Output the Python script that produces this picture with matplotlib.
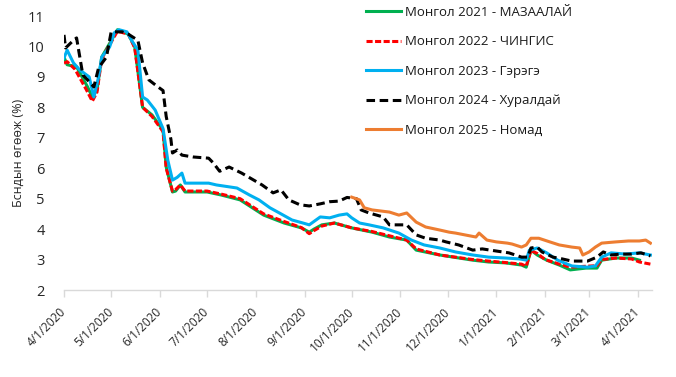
import matplotlib
matplotlib.use('Agg')
import matplotlib.pyplot as plt
import matplotlib.dates as mdates
from matplotlib.ticker import FuncFormatter
import pandas as pd

plt.rcParams['font.family'] = ['Open Sans', 'DejaVu Sans']
fontSize = 9.5

# Монгол 2021 - МАЗААЛАЙ
dates_2021 = ['2020-04-01', '2020-04-03', '2020-04-09', '2020-04-16', '2020-04-19', '2020-04-22',
              '2020-04-25', '2020-04-30', '2020-05-05', '2020-05-12', '2020-05-16', '2020-05-21',
              '2020-05-27', '2020-06-03', '2020-06-05', '2020-06-09', '2020-06-11', '2020-06-14',
              '2020-06-17', '2020-07-01', '2020-07-10', '2020-07-22', '2020-08-06', '2020-08-19',
              '2020-08-30', '2020-09-04', '2020-09-07', '2020-09-12', '2020-09-20', '2020-10-01',
              '2020-10-14', '2020-10-25', '2020-11-05', '2020-11-11', '2020-11-26', '2020-12-17',
              '2020-12-27', '2021-01-07', '2021-01-17', '2021-01-20', '2021-01-23', '2021-01-27',
              '2021-02-02', '2021-02-10', '2021-02-17', '2021-02-27', '2021-03-06', '2021-03-09',
              '2021-03-18', '2021-03-28', '2021-04-02']
vals_2021 = [9.65, 9.4, 9.33, 8.67, 8.34, 8.57,
             9.65, 10.1, 10.55, 10.4, 9.98, 8.0,
             7.75, 7.25, 6.04, 5.22, 5.25, 5.45,
             5.22, 5.22, 5.12, 4.96, 4.46, 4.2,
             4.04, 3.9, 4.0, 4.14, 4.2, 4.04,
             3.9, 3.74, 3.64, 3.31, 3.15, 2.98,
             2.92, 2.89, 2.82, 2.75, 3.31, 3.15,
             2.98, 2.82, 2.66, 2.72, 2.72, 2.98,
             3.05, 3.05, 2.98]

# Монгол 2022 - ЧИНГИС
dates_2022 = ['2020-04-01', '2020-04-03', '2020-04-08', '2020-04-15', '2020-04-19', '2020-04-22',
              '2020-04-25', '2020-04-30', '2020-05-05', '2020-05-12', '2020-05-16', '2020-05-21',
              '2020-05-27', '2020-06-03', '2020-06-05', '2020-06-09', '2020-06-11', '2020-06-14',
              '2020-06-17', '2020-07-01', '2020-07-10', '2020-07-22', '2020-08-06', '2020-08-19',
              '2020-08-30', '2020-09-04', '2020-09-07', '2020-09-12', '2020-09-20', '2020-10-01',
              '2020-10-14', '2020-10-25', '2020-11-05', '2020-11-11', '2020-11-26', '2020-12-17',
              '2020-12-27', '2021-01-07', '2021-01-17', '2021-01-20', '2021-01-23', '2021-01-27',
              '2021-02-01', '2021-02-10', '2021-02-17', '2021-02-27', '2021-03-06', '2021-03-09',
              '2021-03-18', '2021-03-28', '2021-04-02', '2021-04-09']
vals_2022 = [9.45, 9.5, 9.25, 8.6, 8.2, 8.5,
             9.6, 10.05, 10.5, 10.4, 9.95, 8.0,
             7.7, 7.2, 6.0, 5.25, 5.3, 5.45,
             5.25, 5.25, 5.15, 5.0, 4.5, 4.25,
             4.05, 3.85, 3.95, 4.1, 4.2, 4.04,
             3.92, 3.78, 3.64, 3.35, 3.15, 3.0,
             2.95, 2.9, 2.85, 2.78, 3.3, 3.2,
             3.0, 2.85, 2.75, 2.78, 2.8, 3.0,
             3.05, 3.02, 2.92, 2.85]

# Монгол 2023 - Гэрэгэ
dates_2023 = ['2020-04-01', '2020-04-03', '2020-04-07', '2020-04-11', '2020-04-17', '2020-04-20',
              '2020-04-23', '2020-04-25', '2020-04-30', '2020-05-03', '2020-05-06', '2020-05-11',
              '2020-05-14', '2020-05-18', '2020-05-21', '2020-05-24', '2020-05-29', '2020-06-03',
              '2020-06-06', '2020-06-09', '2020-06-12', '2020-06-15', '2020-06-17', '2020-07-02',
              '2020-07-07', '2020-07-20', '2020-07-28', '2020-08-03', '2020-08-10', '2020-08-16',
              '2020-08-24', '2020-08-31', '2020-09-04', '2020-09-11', '2020-09-17', '2020-09-23',
              '2020-09-28', '2020-10-01', '2020-10-06', '2020-10-12', '2020-10-21', '2020-10-31',
              '2020-11-08', '2020-11-16', '2020-11-26', '2020-12-06', '2020-12-17', '2020-12-27',
              '2021-01-07', '2021-01-16', '2021-01-20', '2021-01-22', '2021-01-27', '2021-02-02',
              '2021-02-09', '2021-02-18', '2021-02-28', '2021-03-05', '2021-03-09', '2021-03-15',
              '2021-03-24', '2021-04-02', '2021-04-09']
vals_2023 = [9.62, 9.88, 9.46, 9.23, 9.0, 8.34,
             9.0, 9.65, 9.98, 10.45, 10.55, 10.48,
             10.2, 9.88, 8.34, 8.24, 7.91, 7.3,
             6.27, 5.61, 5.7, 5.84, 5.51, 5.51,
             5.45, 5.35, 5.12, 4.96, 4.7, 4.53,
             4.3, 4.2, 4.14, 4.4, 4.37, 4.46,
             4.5, 4.37, 4.2, 4.14, 4.04, 3.87,
             3.64, 3.48, 3.38, 3.25, 3.15, 3.08,
             3.05, 3.02, 2.98, 3.31, 3.38, 3.22,
             2.98, 2.79, 2.75, 2.79, 3.08, 3.22,
             3.18, 3.22, 3.15]

# Монгол 2024 - Хуралдай
dates_2024 = ['2020-04-01', '2020-04-02', '2020-04-07', '2020-04-09', '2020-04-13', '2020-04-16',
              '2020-04-20', '2020-04-23', '2020-04-28', '2020-05-01', '2020-05-08', '2020-05-12',
              '2020-05-18', '2020-05-21', '2020-05-25', '2020-05-30', '2020-06-03', '2020-06-05',
              '2020-06-08', '2020-06-09', '2020-06-12', '2020-06-15', '2020-06-22', '2020-07-02',
              '2020-07-05', '2020-07-09', '2020-07-15', '2020-07-23', '2020-08-05', '2020-08-12',
              '2020-08-17', '2020-08-22', '2020-08-29', '2020-09-04', '2020-09-11', '2020-09-17',
              '2020-09-23', '2020-09-28', '2020-10-04', '2020-10-07', '2020-10-12', '2020-10-21',
              '2020-10-25', '2020-11-05', '2020-11-11', '2020-11-17', '2020-11-26', '2020-11-30',
              '2020-12-08', '2020-12-17', '2020-12-23', '2021-01-01', '2021-01-09', '2021-01-17',
              '2021-01-21', '2021-01-23', '2021-01-27', '2021-01-30', '2021-02-06', '2021-02-12',
              '2021-02-18', '2021-02-28', '2021-03-06', '2021-03-10', '2021-03-15', '2021-03-21',
              '2021-03-28', '2021-04-03', '2021-04-09']
vals_2024 = [10.38, 9.95, 10.2, 10.28, 9.06, 8.9,
             8.67, 9.3, 9.65, 10.48, 10.48, 10.4,
             10.2, 9.46, 8.9, 8.7, 8.55, 7.7,
             6.95, 6.5, 6.6, 6.43, 6.37, 6.33,
             6.17, 5.9, 6.04, 5.84, 5.45, 5.19,
             5.29, 4.96, 4.8, 4.76, 4.83, 4.9,
             4.92, 5.04, 5.0, 4.63, 4.53, 4.4,
             4.14, 4.14, 3.81, 3.7, 3.64, 3.58,
             3.48, 3.31, 3.35, 3.28, 3.22, 3.08,
             3.08, 3.38, 3.41, 3.25, 3.08, 3.02,
             2.95, 2.95, 3.08, 3.25, 3.15, 3.18,
             3.18, 3.22, 3.12]

# Монгол 2025 - Номад
dates_2025 = ['2020-10-01', '2020-10-06', '2020-10-09', '2020-10-14', '2020-10-25', '2020-10-31',
              '2020-11-05', '2020-11-11', '2020-11-17', '2020-11-26', '2020-12-02', '2020-12-06',
              '2020-12-13', '2020-12-19', '2020-12-21', '2020-12-26', '2021-01-01', '2021-01-08',
              '2021-01-11', '2021-01-17', '2021-01-20', '2021-01-23', '2021-01-28', '2021-02-04',
              '2021-02-10', '2021-02-18', '2021-02-23', '2021-02-25', '2021-03-01', '2021-03-05',
              '2021-03-09', '2021-03-18', '2021-03-26', '2021-04-02', '2021-04-06', '2021-04-09']
vals_2025 = [5.05, 4.96, 4.7, 4.63, 4.56, 4.46,
             4.53, 4.23, 4.07, 3.97, 3.9, 3.87,
             3.8, 3.74, 3.87, 3.64, 3.58, 3.54,
             3.51, 3.41, 3.48, 3.7, 3.7, 3.58,
             3.48, 3.41, 3.38, 3.15, 3.25, 3.41,
             3.54, 3.58, 3.61, 3.61, 3.64, 3.54]

labels = ['Монгол 2021 - МАЗААЛАЙ', 'Монгол 2022 - ЧИНГИС', 'Монгол 2023 - Гэрэгэ',
          'Монгол 2024 - Хуралдай', 'Монгол 2025 - Номад']

fig = plt.figure(figsize=(6.76, 3.77), dpi=100)
ax = fig.add_axes([64/676, 1-290/377, 588/676, 274/377])

lw = 2.2
ax.plot(pd.to_datetime(dates_2021), vals_2021, color='#00B050', lw=lw, label=labels[0])
ax.plot(pd.to_datetime(dates_2022), vals_2022, color='#FF0000', lw=lw, dashes=(2.0, 0.8), label=labels[1])
ax.plot(pd.to_datetime(dates_2023), vals_2023, color='#00B0F0', lw=lw, label=labels[2])
ax.plot(pd.to_datetime(dates_2024), vals_2024, color='#000000', lw=lw, dashes=(2.8, 1.5), label=labels[3])
ax.plot(pd.to_datetime(dates_2025), vals_2025, color='#ED7D31', lw=lw, label=labels[4])

ax.set_ylim(2, 11)
ax.set_yticks(range(2, 12))
ax.set_xlim(pd.Timestamp('2020-04-01'), pd.Timestamp('2021-04-10'))
ax.xaxis.set_major_locator(mdates.MonthLocator())
ax.xaxis.set_major_formatter(FuncFormatter(
    lambda x, pos: '{d.month}/{d.day}/{d.year}'.format(d=mdates.num2date(x))))

for s in ['top', 'right', 'left']:
    ax.spines[s].set_visible(False)
ax.spines['bottom'].set_color('#D9D9D9')
ax.spines['bottom'].set_linewidth(1.0)
ax.tick_params(axis='y', length=0, pad=14, labelsize=fontSize + 1, labelcolor='#262626')
ax.tick_params(axis='x', length=5, width=1.0, color='#D9D9D9', pad=9,
               labelsize=fontSize - 1, labelcolor='#262626')
for t in ax.get_xticklabels():
    t.set_rotation(45)
    t.set_ha('right')
    t.set_va('center')
    t.set_rotation_mode('anchor')

ax.set_ylabel('Бсндын өгөөж (%)', fontsize=fontSize - 0.5, color='#262626', labelpad=2)

leg = ax.legend(loc='upper left', bbox_to_anchor=(366/676, 1-6/377), bbox_transform=fig.transFigure,
                frameon=False, fontsize=fontSize, handlelength=2.65, handletextpad=0.3,
                labelspacing=1.25, borderpad=0, borderaxespad=0)
for t in leg.get_texts():
    t.set_color('#1a1a1a')

plt.savefig('out.png', dpi=100)
